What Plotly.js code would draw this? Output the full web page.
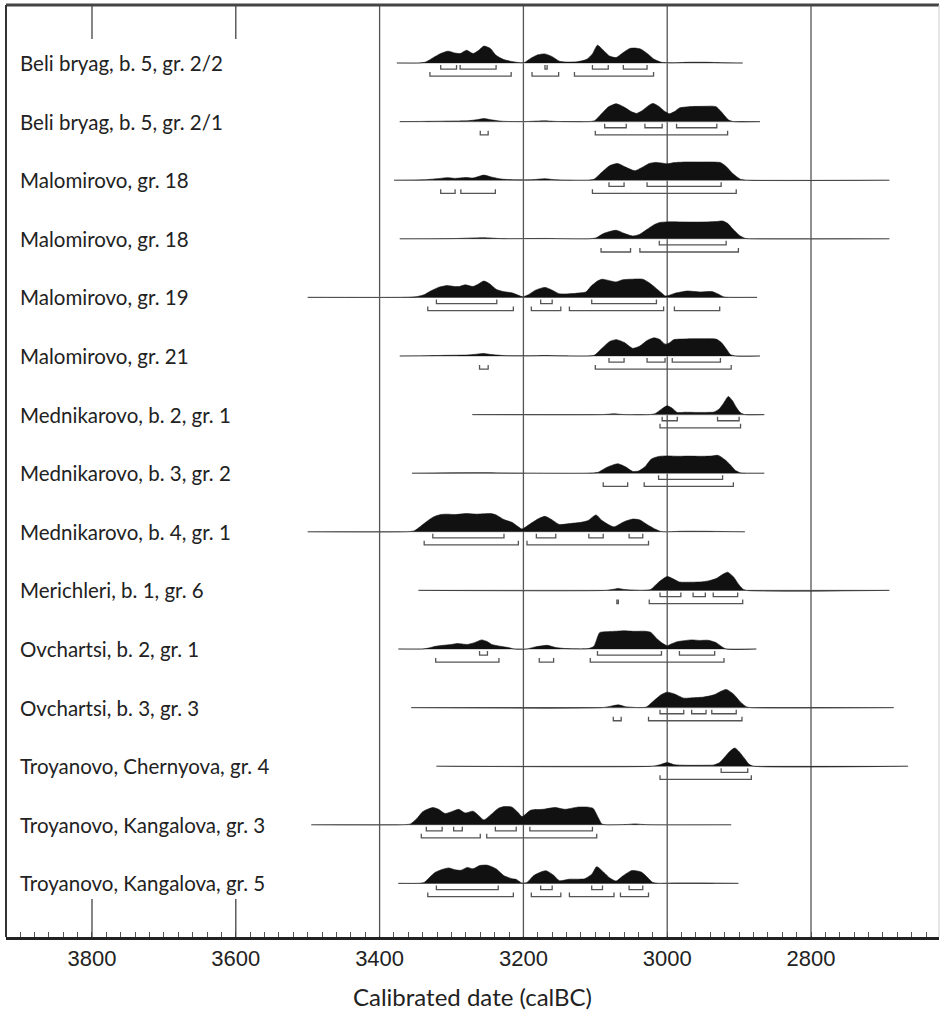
<!DOCTYPE html>
<html>
<head>
<meta charset="utf-8">
<script src="https://cdn.plot.ly/plotly-3.0.1.min.js"></script>
<style>html,body{margin:0;padding:0;background:#fff;}#chart{width:940px;height:1014px;}</style>
</head>
<body>
<div id="chart"></div>
<script>
// ---------- DATA ----------
const rowLabels = [
  "Beli bryag, b. 5, gr. 2/2",
  "Beli bryag, b. 5, gr. 2/1",
  "Malomirovo, gr. 18",
  "Malomirovo, gr. 18",
  "Malomirovo, gr. 19",
  "Malomirovo, gr. 21",
  "Mednikarovo, b. 2, gr. 1",
  "Mednikarovo, b. 3, gr. 2",
  "Mednikarovo, b. 4, gr. 1",
  "Merichleri, b. 1, gr. 6",
  "Ovchartsi, b. 2, gr. 1",
  "Ovchartsi, b. 3, gr. 3",
  "Troyanovo, Chernyova, gr. 4",
  "Troyanovo, Kangalova, gr. 3",
  "Troyanovo, Kangalova, gr. 5"
];
const axisTicks = [3800, 3600, 3400, 3200, 3000, 2800];
const gridYears = [3400, 3200, 3000, 2800];
const longTickYears = [3800, 3600];

// probability densities: [calBC year, relative probability]
const dens01 = [[3376,0],[3345,0],[3336,0.05],[3325,0.3],[3315,0.52],[3305,0.65],[3295,0.55],[3288,0.52],[3279,0.7],[3270,0.52],[3262,0.7],[3255,0.93],[3246,0.8],[3238,0.42],[3228,0.2],[3216,0.08],[3205,0.02],[3199,0.02],[3190,0.25],[3180,0.45],[3170,0.5],[3160,0.35],[3150,0.1],[3140,0.05],[3125,0.07],[3112,0.2],[3104,0.5],[3097,0.98],[3090,0.75],[3080,0.38],[3071,0.3],[3062,0.55],[3052,0.8],[3044,0.82],[3036,0.75],[3027,0.5],[3018,0.2],[3008,0.04],[2995,0.01],[2970,0.04],[2945,0.04],[2920,0.01],[2895,0]];
const dens02 = [[3372,0],[3340,0.01],[3300,0.03],[3280,0.04],[3265,0.1],[3255,0.17],[3245,0.1],[3230,0.02],[3200,0],[3180,0.03],[3170,0.04],[3155,0.01],[3110,0],[3101,0.05],[3092,0.4],[3082,0.8],[3071,0.98],[3060,0.8],[3050,0.55],[3043,0.45],[3035,0.6],[3027,0.85],[3020,1.0],[3012,0.85],[3003,0.55],[2997,0.43],[2990,0.55],[2983,0.75],[2975,0.8],[2966,0.83],[2950,0.84],[2938,0.85],[2932,0.82],[2925,0.55],[2915,0.1],[2908,0],[2871,0]];
const dens03 = [[3380,0],[3340,0.02],[3320,0.08],[3306,0.14],[3295,0.1],[3280,0.15],[3270,0.12],[3255,0.28],[3245,0.18],[3230,0.06],[3210,0.02],[3190,0.02],[3170,0.08],[3155,0.02],[3110,0],[3102,0.05],[3092,0.4],[3080,0.8],[3069,0.92],[3058,0.72],[3045,0.52],[3035,0.7],[3025,0.92],[3017,0.98],[3008,0.95],[3000,0.9],[2990,0.97],[2975,1.0],[2955,1.0],[2940,1.0],[2926,0.97],[2918,0.75],[2909,0.37],[2898,0.05],[2890,0],[2691,0]];
const dens04 = [[3372,0],[3300,0.01],[3255,0.06],[3230,0.01],[3170,0.02],[3110,0],[3099,0.05],[3088,0.3],[3071,0.47],[3060,0.3],[3048,0.15],[3038,0.25],[3028,0.52],[3018,0.78],[3010,0.9],[3000,0.93],[2985,0.93],[2970,0.92],[2955,0.92],[2943,0.93],[2932,0.95],[2923,0.98],[2916,0.85],[2909,0.55],[2900,0.2],[2892,0.03],[2885,0],[2691,0]];
const dens05 = [[3500,0],[3370,0],[3350,0.03],[3338,0.15],[3329,0.35],[3318,0.55],[3306,0.65],[3296,0.6],[3289,0.6],[3281,0.69],[3270,0.6],[3262,0.75],[3255,0.9],[3247,0.75],[3238,0.45],[3228,0.32],[3216,0.25],[3206,0.1],[3201,0.03],[3193,0.15],[3183,0.4],[3170,0.55],[3160,0.4],[3150,0.2],[3135,0.2],[3120,0.25],[3113,0.3],[3105,0.65],[3097,0.9],[3091,1.0],[3083,0.95],[3071,0.85],[3062,0.97],[3050,1.0],[3034,1.0],[3025,0.8],[3017,0.55],[3008,0.25],[3003,0.08],[2997,0.12],[2990,0.22],[2972,0.35],[2955,0.3],[2938,0.32],[2930,0.2],[2921,0.02],[2915,0],[2875,0]];
const dens06 = [[3372,0],[3330,0.02],[3300,0.04],[3280,0.05],[3265,0.1],[3255,0.14],[3245,0.08],[3225,0.02],[3190,0.01],[3170,0.03],[3150,0.01],[3110,0],[3101,0.05],[3090,0.45],[3080,0.8],[3071,0.9],[3060,0.75],[3048,0.42],[3038,0.55],[3028,0.85],[3018,1.0],[3010,0.9],[3003,0.65],[2997,0.72],[2991,0.9],[2980,0.93],[2965,0.95],[2950,0.95],[2932,0.93],[2925,0.75],[2918,0.4],[2912,0.08],[2905,0],[2871,0]];
const dens07 = [[3271,0],[3090,0],[3074,0.04],[3060,0],[3025,0],[3017,0.05],[3008,0.3],[3000,0.48],[2993,0.35],[2986,0.12],[2975,0.13],[2960,0.12],[2945,0.12],[2935,0.14],[2928,0.3],[2922,0.6],[2915,1.0],[2909,0.75],[2904,0.4],[2898,0.1],[2892,0],[2865,0]];
const dens08 = [[3355,0],[3300,0.02],[3255,0.03],[3220,0.01],[3110,0],[3096,0.05],[3085,0.3],[3069,0.52],[3058,0.35],[3048,0.1],[3040,0.12],[3031,0.35],[3022,0.78],[3012,0.92],[3000,0.95],[2985,0.93],[2970,0.94],[2955,0.93],[2940,0.94],[2929,0.98],[2920,0.75],[2912,0.45],[2905,0.15],[2898,0.02],[2890,0],[2865,0]];
const dens09 = [[3500,0],[3365,0],[3352,0.05],[3343,0.3],[3335,0.55],[3325,0.82],[3315,0.95],[3306,0.97],[3294,0.95],[3280,1.0],[3265,0.97],[3255,0.99],[3245,1.0],[3238,0.93],[3227,0.67],[3216,0.52],[3208,0.3],[3202,0.15],[3193,0.37],[3180,0.7],[3170,0.85],[3160,0.65],[3150,0.4],[3136,0.45],[3120,0.52],[3110,0.62],[3099,0.93],[3091,0.63],[3082,0.4],[3074,0.27],[3060,0.55],[3048,0.7],[3038,0.65],[3028,0.4],[3017,0.15],[3009,0.02],[3000,0],[2980,0.03],[2950,0.03],[2930,0.02],[2892,0]];
const dens10 = [[3346,0],[3085,0],[3075,0.06],[3068,0.11],[3060,0.05],[3035,0],[3023,0.05],[3012,0.45],[3000,0.76],[2990,0.6],[2983,0.46],[2970,0.45],[2955,0.46],[2943,0.52],[2932,0.65],[2922,0.9],[2916,1.0],[2908,0.75],[2901,0.35],[2895,0.08],[2890,0],[2691,0]];
const dens11 = [[3374,0],[3340,0],[3332,0.05],[3322,0.15],[3312,0.2],[3300,0.25],[3292,0.3],[3278,0.25],[3268,0.35],[3258,0.5],[3250,0.4],[3244,0.25],[3232,0.15],[3221,0.08],[3213,0],[3195,0],[3185,0.1],[3167,0.2],[3155,0.08],[3140,0.02],[3110,0.02],[3102,0.15],[3094,0.9],[3085,0.95],[3070,0.98],[3060,1.0],[3045,0.97],[3032,0.98],[3023,0.92],[3014,0.55],[3006,0.3],[3000,0.18],[2993,0.3],[2986,0.4],[2966,0.5],[2955,0.47],[2943,0.48],[2932,0.35],[2925,0.15],[2918,0],[2876,0]];
const dens12 = [[3356,0],[3090,0],[3078,0.08],[3068,0.15],[3058,0.05],[3040,0],[3029,0.03],[3018,0.4],[3008,0.72],[3000,0.85],[2990,0.75],[2977,0.52],[2960,0.55],[2949,0.58],[2935,0.7],[2925,0.9],[2918,1.0],[2908,0.75],[2898,0.3],[2890,0.05],[2884,0],[2685,0]];
const dens13 = [[3321,0],[3020,0],[3010,0.08],[3000,0.2],[2990,0.08],[2975,0.05],[2950,0.05],[2935,0.07],[2927,0.2],[2920,0.5],[2912,0.85],[2906,1.0],[2900,0.8],[2892,0.4],[2886,0.1],[2880,0],[2665,0]];
const dens14 = [[3495,0],[3370,0],[3357,0.05],[3348,0.35],[3340,0.72],[3326,0.95],[3318,0.85],[3309,0.62],[3298,0.75],[3290,0.85],[3281,0.65],[3270,0.75],[3262,0.5],[3255,0.27],[3244,0.6],[3235,0.9],[3227,1.0],[3216,0.97],[3208,0.7],[3202,0.45],[3190,0.8],[3173,0.85],[3156,0.95],[3142,0.85],[3125,0.97],[3110,0.97],[3103,0.9],[3096,0.4],[3091,0.05],[3085,0],[3055,0.02],[3045,0.05],[3035,0.02],[3020,0],[2911,0]];
const dens15 = [[3374,0],[3345,0],[3338,0.05],[3330,0.35],[3323,0.6],[3312,0.78],[3304,0.85],[3295,0.75],[3287,0.72],[3278,0.88],[3270,0.8],[3261,0.98],[3250,1.0],[3238,0.8],[3227,0.42],[3215,0.25],[3210,0.22],[3202,0.02],[3195,0.05],[3185,0.45],[3169,0.7],[3158,0.45],[3150,0.15],[3136,0.23],[3115,0.25],[3105,0.5],[3098,0.92],[3088,0.6],[3080,0.3],[3071,0.13],[3062,0.4],[3050,0.7],[3044,0.7],[3036,0.62],[3028,0.35],[3020,0.05],[3012,0],[2990,0.02],[2950,0.02],[2930,0.01],[2901,0]];

// highest posterior density ranges, calBC [from, to]
const hpd68_01 = [[3315,3293],[3288,3238],[3170,3167],[3104,3082],[3061,3028]];
const hpd95_01 = [[3330,3217],[3188,3151],[3129,3019]];
const hpd68_02 = [[3087,3057],[3031,3007],[2987,2931]];
const hpd95_02 = [[3260,3249],[3100,2916]];
const hpd68_03 = [[3081,3060],[3028,2925]];
const hpd95_03 = [[3315,3295],[3287,3239],[3104,2904]];
const hpd68_04 = [[3011,2918]];
const hpd95_04 = [[3092,3051],[3038,2901]];
const hpd68_05 = [[3321,3237],[3176,3160],[3105,3015]];
const hpd95_05 = [[3333,3214],[3189,3148],[3136,3005],[2990,2927]];
const hpd68_06 = [[3081,3060],[3028,3003],[2993,2926]];
const hpd95_06 = [[3261,3249],[3100,2911]];
const hpd68_07 = [[3007,2986],[2930,2900]];
const hpd95_07 = [[3010,2898]];
const hpd68_08 = [[3012,2923]];
const hpd95_08 = [[3089,3055],[3032,2908]];
const hpd68_09 = [[3326,3227],[3182,3155],[3109,3089],[3053,3034]];
const hpd95_09 = [[3338,3207],[3195,3026]];
const hpd68_10 = [[3010,2981],[2964,2947],[2936,2902]];
const hpd95_10 = [[3070,3068],[3025,2895]];
const hpd68_11 = [[3261,3250],[3097,3008],[2983,2934]];
const hpd95_11 = [[3322,3234],[3178,3158],[3107,2921]];
const hpd68_12 = [[3010,2977],[2966,2946],[2938,2904]];
const hpd95_12 = [[3075,3064],[3026,2896]];
const hpd68_13 = [[2925,2888]];
const hpd95_13 = [[3010,2883]];
const hpd68_14 = [[3335,3313],[3297,3285],[3239,3210],[3191,3104]];
const hpd95_14 = [[3342,3260],[3251,3098]];
const hpd68_15 = [[3321,3235],[3176,3160],[3105,3090],[3053,3034]];
const hpd95_15 = [[3333,3214],[3189,3148],[3136,3074],[3065,3026]];

const densities = [dens01,dens02,dens03,dens04,dens05,dens06,dens07,dens08,dens09,dens10,dens11,dens12,dens13,dens14,dens15];
const hpd68 = [hpd68_01,hpd68_02,hpd68_03,hpd68_04,hpd68_05,hpd68_06,hpd68_07,hpd68_08,hpd68_09,hpd68_10,hpd68_11,hpd68_12,hpd68_13,hpd68_14,hpd68_15];
const hpd95 = [hpd95_01,hpd95_02,hpd95_03,hpd95_04,hpd95_05,hpd95_06,hpd95_07,hpd95_08,hpd95_09,hpd95_10,hpd95_11,hpd95_12,hpd95_13,hpd95_14,hpd95_15];

// ---------- STYLE ----------
const PEAK = 0.31;     // peak height in row units
const OFF68 = 0.105, OFF95 = 0.225, END = 0.07;

const traces = [];
densities.forEach((d, i) => {
  const xs = d.map(p => p[0]);
  traces.push({x:[xs[0], xs[xs.length-1]], y:[i, i], mode:'lines', hoverinfo:'skip',
    line:{color:'#a8a8a8', width:1.1}, showlegend:false});
  traces.push({x: xs, y: d.map(p => i - p[1]*PEAK), mode:'lines', fill:'toself',
    fillcolor:'#111', line:{color:'#111', width:0.6, shape:'spline', smoothing:0.6},
    hoverinfo:'skip', showlegend:false});
  [[hpd68[i], OFF68], [hpd95[i], OFF95]].forEach(([ranges, off]) => {
    const bx = [], by = [];
    ranges.forEach(r => {
      bx.push(r[0], r[0], r[1], r[1], null);
      by.push(i + off - END, i + off, i + off, i + off - END, null);
    });
    traces.push({x: bx, y: by, mode:'lines', line:{color:'#555', width:1.3},
      hoverinfo:'skip', showlegend:false});
  });
});

const shapes = [];
gridYears.forEach(g => shapes.push({type:'line', xref:'x', yref:'paper', x0:g, x1:g, y0:0, y1:1,
  line:{color:'#555', width:1.3}, layer:'below'}));
longTickYears.forEach(g => {
  shapes.push({type:'line', xref:'x', yref:'paper', x0:g, x1:g, y0:1, y1:1-34/932, line:{color:'#444', width:1.3}});
  shapes.push({type:'line', xref:'x', yref:'paper', x0:g, x1:g, y0:0, y1:38/932, line:{color:'#444', width:1.3}});
});
shapes.push({type:'line', xref:'paper', yref:'paper', x0:0, x1:1, y0:1, y1:1, line:{color:'#444', width:3}});
shapes.push({type:'line', xref:'paper', yref:'paper', x0:0, x1:0, y0:0, y1:1, line:{color:'#333', width:2}});
shapes.push({type:'line', xref:'paper', yref:'paper', x0:1, x1:1, y0:0, y1:1, line:{color:'#ccc', width:1}});

const annotations = rowLabels.map((t, i) => ({
  text: t, xref:'paper', yref:'y', x: 12/933, y: i, xanchor:'left', yanchor:'middle',
  showarrow:false, font:{family:'Lato, Open Sans, sans-serif', size:20.5, color:'#222'}
}));

const layout = {
  width: 940, height: 1014,
  margin: {l:6, r:1, t:5, b:77},
  paper_bgcolor:'#fff', plot_bgcolor:'#fff',
  showlegend:false,
  xaxis: {
    range:[3919.6, 2622], tickvals: axisTicks, ticktext: axisTicks.map(String),
    ticks:'inside', ticklen:1, tickcolor:'#333', tickwidth:1,
    showline:true, linecolor:'#222', linewidth:2.5, showgrid:false, zeroline:false,
    minor:{dtick:20, tick0:0, ticks:'inside', ticklen:5, tickcolor:'#555', tickwidth:1, showgrid:false},
    tickfont:{family:'Liberation Sans, Arial, sans-serif', size:22, color:'#222'},
    title:{text:'Calibrated date (calBC)', font:{family:'Lato, Open Sans, sans-serif', size:24, color:'#222'}, standoff:20},
    fixedrange:true
  },
  yaxis: {range:[14.915, -0.9898], showgrid:false, zeroline:false, showticklabels:false, ticks:'', fixedrange:true},
  shapes, annotations
};

Plotly.newPlot('chart', traces, layout, {displayModeBar:false, staticPlot:true});
</script>
</body>
</html>
